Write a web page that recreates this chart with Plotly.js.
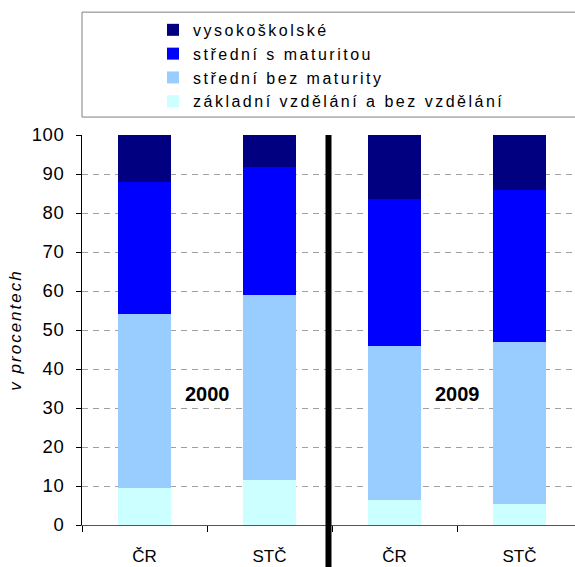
<!DOCTYPE html>
<html><head><meta charset="utf-8">
<script src="https://cdn.plot.ly/plotly-3.0.1.min.js"></script>
<style>
html,body{margin:0;padding:0;background:#fff;}
#chart{width:575px;height:567px;}
.legendtext{letter-spacing:2.5px;}
.ytitle{letter-spacing:2px;}
.ytick text{letter-spacing:0.6px;}
</style></head><body><div id="chart"></div>
<script>
// ---- data ----
const categories = ['ČR', 'STČ', 'ČR', 'STČ'];
const periodLabels = ['2000', '2009'];
const seriesNames = ['základní vzdělání a bez vzdělání', 'střední bez maturity', 'střední s maturitou', 'vysokoškolské'];
const zakladni = [9.5, 11.5, 6.4, 5.4];
const stredniBez = [44.5, 47.5, 39.5, 41.5];
const stredniS = [34.0, 32.8, 37.6, 39.0];
const vysokoskolske = [12.0, 8.2, 16.5, 14.1];
const yTickVals = [0, 10, 20, 30, 40, 50, 60, 70, 80, 90, 100];

// ---- styles ----
const colors = ['#CCFFFF', '#99CCFF', '#0000FF', '#000080'];
const FONT = 'Liberation Sans, Arial, sans-serif';
const xIdx = categories.map((c, i) => i);
const seriesValues = [zakladni, stredniBez, stredniS, vysokoskolske];

const traces = seriesValues.map((vals, k) => ({
  type: 'bar',
  name: seriesNames[k],
  x: xIdx,
  y: vals,
  width: 0.424,
  marker: {color: colors[k], line: {width: 0}},
  hoverinfo: 'y+name'
}));

const boundaries = [-0.5, 0.5, 1.5, 2.5];
const periodX = [0.5, 2.5];
const periodY = 33.5;
const dividerX = 1.472;

const layout = {
  width: 575, height: 567,
  margin: {l: 82, r: 0, t: 135, b: 42, pad: 0},
  paper_bgcolor: '#fff', plot_bgcolor: '#fff',
  barmode: 'stack',
  bargap: 0,
  font: {family: FONT, size: 16, color: '#000'},
  showlegend: true,
  legend: {
    x: 0.144, xanchor: 'left', y: 1.313, yanchor: 'top',
    traceorder: 'reversed', bgcolor: 'rgba(0,0,0,0)', borderwidth: 0,
    font: {family: FONT, size: 16, color: '#000'}, itemclick: false, itemdoubleclick: false
  },
  xaxis: {
    range: [-0.5, 3.444], tickmode: 'array', tickvals: xIdx, ticktext: categories,
    ticks: '', showgrid: false, zeroline: false,
    showline: true, linecolor: '#555', linewidth: 1,
    ticklabelstandoff: 16,
    tickfont: {family: FONT, size: 17, color: '#000'},
    minor: {tickmode: 'array', tickvals: boundaries, ticks: 'outside', ticklen: 6, tickcolor: '#000', tickwidth: 1, showgrid: false},
    fixedrange: true
  },
  yaxis: {
    range: [0, 100], tickmode: 'array', tickvals: yTickVals,
    ticks: 'outside', ticklen: 5, tickcolor: '#000', tickwidth: 1,
    showline: true, linecolor: '#000', linewidth: 1,
    showgrid: true, gridcolor: '#a0a0a0', gridwidth: 1, griddash: '6px,5px',
    zeroline: false, ticklabelstandoff: 8,
    tickfont: {family: FONT, size: 18.5, color: '#000'},
    title: {text: 'v procentech', font: {family: FONT, size: 17, style: 'italic', color: '#000'}, standoff: 5},
    fixedrange: true
  },
  annotations: periodLabels.map((t, i) => ({
    x: periodX[i], y: periodY, xref: 'x', yref: 'y', text: '<b>' + t + '</b>',
    showarrow: false, font: {family: FONT, size: 20, color: '#000'}, xanchor: 'center', yanchor: 'middle'
  })),
  shapes: [
    {type: 'rect', xref: 'paper', yref: 'paper', x0: 0, x1: 1.02, y0: 1.046, y1: 1.315,
     line: {color: '#808080', width: 1}, fillcolor: 'rgba(0,0,0,0)', layer: 'below'},
    {type: 'line', xref: 'x', yref: 'paper', x0: dividerX, x1: dividerX, y0: -0.2, y1: 1,
     line: {color: '#000', width: 6}, layer: 'above'}
  ]
};

Plotly.newPlot('chart', traces, layout, {displayModeBar: false, staticPlot: true});
</script></body></html>
